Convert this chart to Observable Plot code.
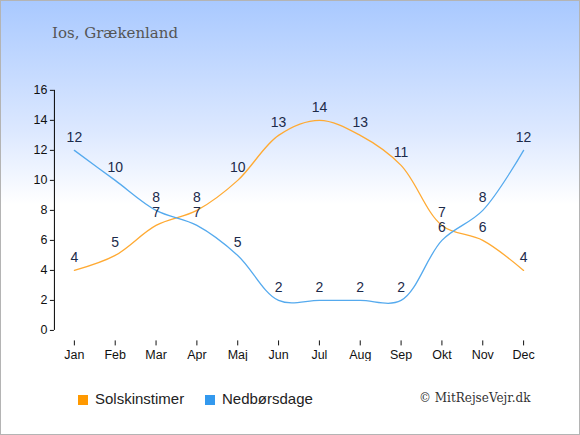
<!DOCTYPE html>
<html><head><meta charset="utf-8">
<script src="https://cdn.jsdelivr.net/npm/d3@7"></script>
<script src="https://cdn.jsdelivr.net/npm/@observablehq/plot@0.6"></script>
<style>
html,body{margin:0;padding:0;}
#wrap{position:relative;width:578px;height:433px;border:1px solid #b4b4b4;
 background:linear-gradient(to bottom,#a9c9ff 0%,#dce8ff 30%,#ffffff 47%,#ffffff 100%);overflow:hidden;}
#title{position:absolute;left:51px;top:23px;font-family:"DejaVu Serif",serif;font-size:15px;color:#555;}
#chart{position:absolute;left:-1px;top:-1px;}
.leg{position:absolute;top:389px;font-family:"Liberation Sans",Arial,sans-serif;font-size:15px;color:#222;}
.sq{display:inline-block;width:10px;height:10px;margin-right:7px;vertical-align:-1px;}
#copy{position:absolute;left:418px;top:390px;font-family:"DejaVu Serif",serif;font-size:12px;color:#333;}
</style></head>
<body>
<div id="wrap">
<div id="title">Ios, Grækenland</div>
<div id="chart"></div>
<div class="leg" style="left:77px"><span class="sq" style="background:#ff9900"></span>Solskinstimer</div>
<div class="leg" style="left:204px"><span class="sq" style="background:#3399ee"></span>Nedbørsdage</div>
<div id="copy">© MitRejseVejr.dk</div>
</div>
<script>
const months = ["Jan","Feb","Mar","Apr","Maj","Jun","Jul","Aug","Sep","Okt","Nov","Dec"];
const sun = [4,5,7,8,10,13,14,13,11,7,6,4];
const rain = [12,10,8,7,5,2,2,2,2,6,8,12];
const yTicks = [0,2,4,6,8,10,12,14,16];

const sunData = months.map((m,i)=>({m, v: sun[i]}));
const rainData = months.map((m,i)=>({m, v: rain[i]}));

const chart = Plot.plot({
  width: 580, height: 362,
  marginLeft: 54, marginRight: 40, marginTop: 80, marginBottom: 21,
  style: {background: "transparent", fontFamily: "'Liberation Sans', Arial, sans-serif", fontSize: "12.5px", color: "#111"},
  x: {type: "point", domain: months, range: [74, 524], padding: 0, round: false, label: null},
  y: {domain: [0, 16], range: [330.5, 90], label: null},
  marks: [
    Plot.axisY({ticks: yTicks, tickSize: 4, tickPadding: 3, label: null, fontSize: 12.5}),
    Plot.ruleX([months[0]], {y1: 0, y2: 16, dx: -20, stroke: "#000"}),
    Plot.axisX({tickSize: 5, tickPadding: 4, label: null, fontSize: 12.5}),
    Plot.ruleY([0], {x1: months[0], x2: months[11], dy: 10.5, stroke: "#000"}),
    Plot.line(sunData, {x: "m", y: "v", stroke: "#ffaa33", strokeWidth: 1.3, curve: "catmull-rom"}),
    Plot.line(rainData, {x: "m", y: "v", stroke: "#55aaee", strokeWidth: 1.3, curve: "catmull-rom"}),
    Plot.text(sunData, {x: "m", y: "v", text: "v", dy: -13, fill: "#1c2a4a", fontSize: 14}),
    Plot.text(rainData, {x: "m", y: "v", text: "v", dy: -13, fill: "#1c2a4a", fontSize: 14})
  ]
});
document.getElementById("chart").appendChild(chart);
</script>
</body></html>
